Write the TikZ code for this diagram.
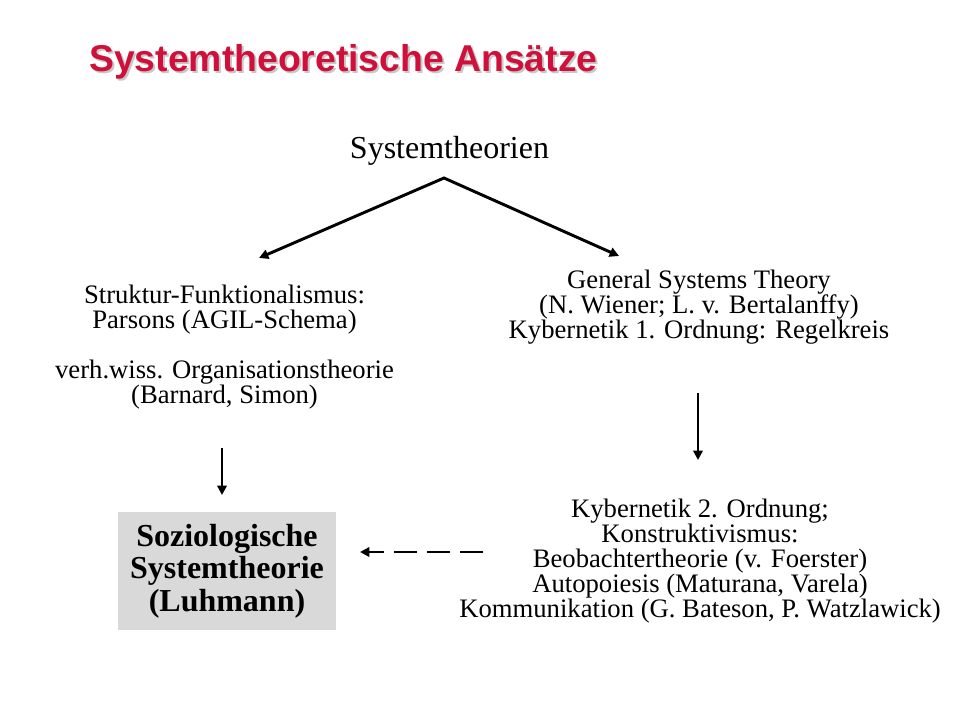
\documentclass[tikz,border=0pt]{standalone}
\usepackage{fontspec}
\setmainfont{Liberation Serif}
\newfontfamily\arialfont{Liberation Sans}
\usetikzlibrary{arrows.meta}
\definecolor{titlered}{RGB}{208,16,58}
\definecolor{shadowgray}{RGB}{200,200,200}
\definecolor{boxgray}{RGB}{217,217,217}
\begin{document}
\begin{tikzpicture}[x=0.75pt,y=-0.75pt,
  body/.style={align=center, inner sep=0pt, font=\fontsize{20pt}{18.75pt}\selectfont},
  titlestyle/.style={anchor=base west, inner sep=0pt, font=\arialfont\bfseries\fontsize{28pt}{30pt}\selectfont},
  arr/.style={line width=2.2pt, -{Triangle[length=7pt,width=7pt]}},
  twoarr/.style={line width=2.2pt, line join=miter, {Triangle[length=7pt,width=7pt]}-{Triangle[length=7pt,width=7pt]}},
  dasharr/.style={line width=2.2pt, dash pattern=on 17.25pt off 7.5pt, -{Triangle[length=7pt,width=7pt]}},
  luhmannbox/.style={fill=boxgray, align=center, inner sep=0pt, minimum width=163.5pt, minimum height=88.5pt,
     font=\bfseries\fontsize{24pt}{24.4pt}\selectfont}
]
\lineskiplimit=-20pt
\useasboundingbox (0,0) rectangle (960,720);
\fill[white] (0,0) rectangle (960,720);
% title with shadow
\node[titlestyle, text=shadowgray] (titleshadow) at (91,73.5) {Systemtheoretische Ansätze};
\node[titlestyle, text=titlered] (title) at (89,71.5) {Systemtheoretische Ansätze};
% root
\node[anchor=base, inner sep=0pt, font=\fontsize{24pt}{24pt}\selectfont] (root) at (449.5,159) {Systemtheorien};
% left block
\node[body, anchor=base] (left) at (224.5,403) {Struktur-Funktionalismus:\\Parsons (AGIL-Schema)\\[18.75pt]verh.wiss. Organisationstheorie\\(Barnard, Simon)};
% right block
\node[body, anchor=base] (right) at (699,338) {General Systems Theory\\(N. Wiener; L. v. Bertalanffy)\\Kybernetik 1. Ordnung: Regelkreis};
% bottom right block
\node[body, anchor=base] (second) at (700,617) {Kybernetik 2. Ordnung;\\Konstruktivismus:\\Beobachtertheorie (v. Foerster)\\Autopoiesis (Maturana, Varela)\\Kommunikation (G. Bateson, P. Watzlawick)};
% Luhmann box
\node[luhmannbox] (luhmann) at (227,571) {Soziologische\\Systemtheorie\\(Luhmann)};
% connector end points
\coordinate (apex) at (444,178);
\coordinate (ltip) at (259,258);
\coordinate (rtip) at (619,256);
\coordinate (leftfrom) at (222,448);
\coordinate (leftto) at (222,495);
\coordinate (rightfrom) at (698,393);
\coordinate (rightto) at (698,460);
\coordinate (dashfrom) at (483,552);
\coordinate (dashto) at (360,552);
% connectors
\draw[twoarr] (ltip) -- (apex) -- (rtip);
\draw[arr] (leftfrom) -- (leftto);
\draw[arr] (rightfrom) -- (rightto);
\draw[dasharr] (dashfrom) -- (dashto);
\end{tikzpicture}
\end{document}
